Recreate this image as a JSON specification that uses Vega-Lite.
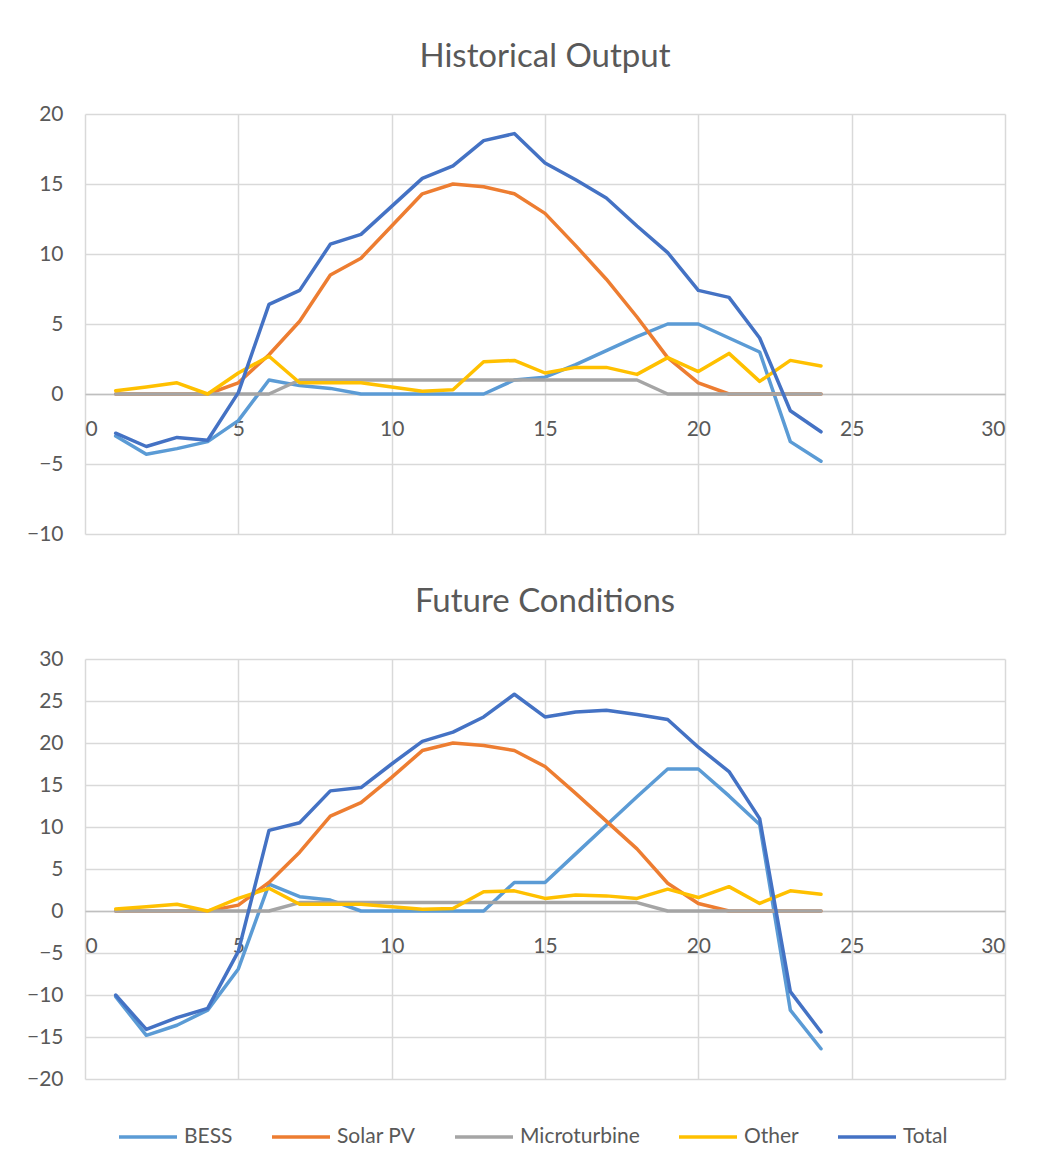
{
  "$schema": "https://vega.github.io/schema/vega-lite/v6.json",
  "padding": {"left": 26, "top": 41, "right": 15, "bottom": 10},
  "background": "white",
  "config": {
    "font": "Lato",
    "view": {"stroke": null},
    "title": {"fontSize": 33, "fontWeight": "normal", "color": "#595959", "anchor": "middle", "offset": 29},
    "axis": {"labelFontSize": 21, "labelColor": "#595959", "gridColor": "#d9d9d9", "gridWidth": 1.5, "ticks": false, "title": null},
    "legend": {"labelFontSize": 21, "labelColor": "#595959", "orient": "none", "legendX": 32, "legendY": 992, "direction": "horizontal", "title": null, "symbolType": "stroke", "symbolSize": 3364, "symbolStrokeWidth": 3.5, "columnPadding": 32, "labelOffset": 5}
  },
  "spacing": 42,
  "datasets": {
    "hist": [
      {"h":1,"s":"BESS","v":-3.0},{"h":2,"s":"BESS","v":-4.3},{"h":3,"s":"BESS","v":-3.9},{"h":4,"s":"BESS","v":-3.4},{"h":5,"s":"BESS","v":-1.9},{"h":6,"s":"BESS","v":1.0},{"h":7,"s":"BESS","v":0.6},{"h":8,"s":"BESS","v":0.4},{"h":9,"s":"BESS","v":0},{"h":10,"s":"BESS","v":0},{"h":11,"s":"BESS","v":0},{"h":12,"s":"BESS","v":0},{"h":13,"s":"BESS","v":0},{"h":14,"s":"BESS","v":1.0},{"h":15,"s":"BESS","v":1.2},{"h":16,"s":"BESS","v":2.1},{"h":17,"s":"BESS","v":3.1},{"h":18,"s":"BESS","v":4.1},{"h":19,"s":"BESS","v":5.0},{"h":20,"s":"BESS","v":5.0},{"h":21,"s":"BESS","v":4.0},{"h":22,"s":"BESS","v":3.0},{"h":23,"s":"BESS","v":-3.4},{"h":24,"s":"BESS","v":-4.8},
      {"h":1,"s":"Solar PV","v":0},{"h":2,"s":"Solar PV","v":0},{"h":3,"s":"Solar PV","v":0},{"h":4,"s":"Solar PV","v":0},{"h":5,"s":"Solar PV","v":0.8},{"h":6,"s":"Solar PV","v":2.8},{"h":7,"s":"Solar PV","v":5.2},{"h":8,"s":"Solar PV","v":8.5},{"h":9,"s":"Solar PV","v":9.7},{"h":10,"s":"Solar PV","v":12.0},{"h":11,"s":"Solar PV","v":14.3},{"h":12,"s":"Solar PV","v":15.0},{"h":13,"s":"Solar PV","v":14.8},{"h":14,"s":"Solar PV","v":14.3},{"h":15,"s":"Solar PV","v":12.9},{"h":16,"s":"Solar PV","v":10.6},{"h":17,"s":"Solar PV","v":8.2},{"h":18,"s":"Solar PV","v":5.5},{"h":19,"s":"Solar PV","v":2.6},{"h":20,"s":"Solar PV","v":0.8},{"h":21,"s":"Solar PV","v":0},{"h":22,"s":"Solar PV","v":0},{"h":23,"s":"Solar PV","v":0},{"h":24,"s":"Solar PV","v":0},
      {"h":1,"s":"Microturbine","v":0},{"h":2,"s":"Microturbine","v":0},{"h":3,"s":"Microturbine","v":0},{"h":4,"s":"Microturbine","v":0},{"h":5,"s":"Microturbine","v":0},{"h":6,"s":"Microturbine","v":0},{"h":7,"s":"Microturbine","v":1},{"h":8,"s":"Microturbine","v":1},{"h":9,"s":"Microturbine","v":1},{"h":10,"s":"Microturbine","v":1},{"h":11,"s":"Microturbine","v":1},{"h":12,"s":"Microturbine","v":1},{"h":13,"s":"Microturbine","v":1},{"h":14,"s":"Microturbine","v":1},{"h":15,"s":"Microturbine","v":1},{"h":16,"s":"Microturbine","v":1},{"h":17,"s":"Microturbine","v":1},{"h":18,"s":"Microturbine","v":1},{"h":19,"s":"Microturbine","v":0},{"h":20,"s":"Microturbine","v":0},{"h":21,"s":"Microturbine","v":0},{"h":22,"s":"Microturbine","v":0},{"h":23,"s":"Microturbine","v":0},{"h":24,"s":"Microturbine","v":0},
      {"h":1,"s":"Other","v":0.24},{"h":2,"s":"Other","v":0.5},{"h":3,"s":"Other","v":0.8},{"h":4,"s":"Other","v":0},{"h":5,"s":"Other","v":1.5},{"h":6,"s":"Other","v":2.7},{"h":7,"s":"Other","v":0.8},{"h":8,"s":"Other","v":0.8},{"h":9,"s":"Other","v":0.8},{"h":10,"s":"Other","v":0.5},{"h":11,"s":"Other","v":0.2},{"h":12,"s":"Other","v":0.3},{"h":13,"s":"Other","v":2.3},{"h":14,"s":"Other","v":2.4},{"h":15,"s":"Other","v":1.5},{"h":16,"s":"Other","v":1.9},{"h":17,"s":"Other","v":1.9},{"h":18,"s":"Other","v":1.4},{"h":19,"s":"Other","v":2.6},{"h":20,"s":"Other","v":1.6},{"h":21,"s":"Other","v":2.9},{"h":22,"s":"Other","v":0.9},{"h":23,"s":"Other","v":2.4},{"h":24,"s":"Other","v":2.0},
      {"h":1,"s":"Total","v":-2.8},{"h":2,"s":"Total","v":-3.75},{"h":3,"s":"Total","v":-3.1},{"h":4,"s":"Total","v":-3.3},{"h":5,"s":"Total","v":0.1},{"h":6,"s":"Total","v":6.4},{"h":7,"s":"Total","v":7.4},{"h":8,"s":"Total","v":10.7},{"h":9,"s":"Total","v":11.4},{"h":10,"s":"Total","v":13.4},{"h":11,"s":"Total","v":15.4},{"h":12,"s":"Total","v":16.3},{"h":13,"s":"Total","v":18.1},{"h":14,"s":"Total","v":18.6},{"h":15,"s":"Total","v":16.5},{"h":16,"s":"Total","v":15.3},{"h":17,"s":"Total","v":14.0},{"h":18,"s":"Total","v":12.0},{"h":19,"s":"Total","v":10.1},{"h":20,"s":"Total","v":7.4},{"h":21,"s":"Total","v":6.9},{"h":22,"s":"Total","v":4.0},{"h":23,"s":"Total","v":-1.2},{"h":24,"s":"Total","v":-2.7}
    ],
    "future": [
      {"h":1,"s":"BESS","v":-10.2},{"h":2,"s":"BESS","v":-14.8},{"h":3,"s":"BESS","v":-13.6},{"h":4,"s":"BESS","v":-11.8},{"h":5,"s":"BESS","v":-6.9},{"h":6,"s":"BESS","v":3.2},{"h":7,"s":"BESS","v":1.7},{"h":8,"s":"BESS","v":1.3},{"h":9,"s":"BESS","v":0},{"h":10,"s":"BESS","v":0},{"h":11,"s":"BESS","v":0},{"h":12,"s":"BESS","v":0},{"h":13,"s":"BESS","v":0},{"h":14,"s":"BESS","v":3.4},{"h":15,"s":"BESS","v":3.4},{"h":16,"s":"BESS","v":6.8},{"h":17,"s":"BESS","v":10.2},{"h":18,"s":"BESS","v":13.6},{"h":19,"s":"BESS","v":16.9},{"h":20,"s":"BESS","v":16.9},{"h":21,"s":"BESS","v":13.7},{"h":22,"s":"BESS","v":10.3},{"h":23,"s":"BESS","v":-11.8},{"h":24,"s":"BESS","v":-16.4},
      {"h":1,"s":"Solar PV","v":0},{"h":2,"s":"Solar PV","v":0},{"h":3,"s":"Solar PV","v":0},{"h":4,"s":"Solar PV","v":0},{"h":5,"s":"Solar PV","v":0.7},{"h":6,"s":"Solar PV","v":3.4},{"h":7,"s":"Solar PV","v":7.0},{"h":8,"s":"Solar PV","v":11.3},{"h":9,"s":"Solar PV","v":12.9},{"h":10,"s":"Solar PV","v":15.9},{"h":11,"s":"Solar PV","v":19.1},{"h":12,"s":"Solar PV","v":20.0},{"h":13,"s":"Solar PV","v":19.7},{"h":14,"s":"Solar PV","v":19.1},{"h":15,"s":"Solar PV","v":17.2},{"h":16,"s":"Solar PV","v":14.0},{"h":17,"s":"Solar PV","v":10.7},{"h":18,"s":"Solar PV","v":7.4},{"h":19,"s":"Solar PV","v":3.3},{"h":20,"s":"Solar PV","v":0.9},{"h":21,"s":"Solar PV","v":0},{"h":22,"s":"Solar PV","v":0},{"h":23,"s":"Solar PV","v":0},{"h":24,"s":"Solar PV","v":0},
      {"h":1,"s":"Microturbine","v":0},{"h":2,"s":"Microturbine","v":0},{"h":3,"s":"Microturbine","v":0},{"h":4,"s":"Microturbine","v":0},{"h":5,"s":"Microturbine","v":0},{"h":6,"s":"Microturbine","v":0},{"h":7,"s":"Microturbine","v":1},{"h":8,"s":"Microturbine","v":1},{"h":9,"s":"Microturbine","v":1},{"h":10,"s":"Microturbine","v":1},{"h":11,"s":"Microturbine","v":1},{"h":12,"s":"Microturbine","v":1},{"h":13,"s":"Microturbine","v":1},{"h":14,"s":"Microturbine","v":1},{"h":15,"s":"Microturbine","v":1},{"h":16,"s":"Microturbine","v":1},{"h":17,"s":"Microturbine","v":1},{"h":18,"s":"Microturbine","v":1},{"h":19,"s":"Microturbine","v":0},{"h":20,"s":"Microturbine","v":0},{"h":21,"s":"Microturbine","v":0},{"h":22,"s":"Microturbine","v":0},{"h":23,"s":"Microturbine","v":0},{"h":24,"s":"Microturbine","v":0},
      {"h":1,"s":"Other","v":0.24},{"h":2,"s":"Other","v":0.5},{"h":3,"s":"Other","v":0.8},{"h":4,"s":"Other","v":0},{"h":5,"s":"Other","v":1.5},{"h":6,"s":"Other","v":2.7},{"h":7,"s":"Other","v":0.8},{"h":8,"s":"Other","v":0.8},{"h":9,"s":"Other","v":0.8},{"h":10,"s":"Other","v":0.5},{"h":11,"s":"Other","v":0.2},{"h":12,"s":"Other","v":0.3},{"h":13,"s":"Other","v":2.3},{"h":14,"s":"Other","v":2.4},{"h":15,"s":"Other","v":1.5},{"h":16,"s":"Other","v":1.9},{"h":17,"s":"Other","v":1.8},{"h":18,"s":"Other","v":1.5},{"h":19,"s":"Other","v":2.6},{"h":20,"s":"Other","v":1.6},{"h":21,"s":"Other","v":2.9},{"h":22,"s":"Other","v":0.9},{"h":23,"s":"Other","v":2.4},{"h":24,"s":"Other","v":2.0},
      {"h":1,"s":"Total","v":-10.0},{"h":2,"s":"Total","v":-14.1},{"h":3,"s":"Total","v":-12.7},{"h":4,"s":"Total","v":-11.6},{"h":5,"s":"Total","v":-4.8},{"h":6,"s":"Total","v":9.6},{"h":7,"s":"Total","v":10.5},{"h":8,"s":"Total","v":14.3},{"h":9,"s":"Total","v":14.7},{"h":10,"s":"Total","v":17.5},{"h":11,"s":"Total","v":20.2},{"h":12,"s":"Total","v":21.3},{"h":13,"s":"Total","v":23.1},{"h":14,"s":"Total","v":25.8},{"h":15,"s":"Total","v":23.1},{"h":16,"s":"Total","v":23.7},{"h":17,"s":"Total","v":23.9},{"h":18,"s":"Total","v":23.4},{"h":19,"s":"Total","v":22.8},{"h":20,"s":"Total","v":19.5},{"h":21,"s":"Total","v":16.6},{"h":22,"s":"Total","v":11.0},{"h":23,"s":"Total","v":-9.6},{"h":24,"s":"Total","v":-14.4}
    ]
  },
  "vconcat": [
    {
      "title": "Historical Output",
      "width": 920,
      "height": 420,
      "data": {"name": "hist"},
      "mark": {"type": "line", "strokeWidth": 3.5, "strokeCap": "round", "strokeJoin": "round"},
      "encoding": {
        "x": {"field": "h", "type": "quantitative", "scale": {"domain": [0, 30], "nice": false},
              "axis": {"values": [0, 5, 10, 15, 20, 25, 30], "offset": -140, "labelPadding": 24, "domainColor": "#bfbfbf", "domainWidth": 1.5}},
        "y": {"field": "v", "type": "quantitative", "scale": {"domain": [-10, 20], "nice": false, "zero": false},
              "axis": {"values": [-10, -5, 0, 5, 10, 15, 20], "domain": false, "labelPadding": 22}},
        "color": {"field": "s", "type": "nominal",
                  "scale": {"domain": ["BESS", "Solar PV", "Microturbine", "Other", "Total"], "range": ["#5B9BD5", "#ED7D31", "#A5A5A5", "#FFC000", "#4472C4"]}}
      }
    },
    {
      "title": "Future Conditions",
      "width": 920,
      "height": 420,
      "data": {"name": "future"},
      "mark": {"type": "line", "strokeWidth": 3.5, "strokeCap": "round", "strokeJoin": "round"},
      "encoding": {
        "x": {"field": "h", "type": "quantitative", "scale": {"domain": [0, 30], "nice": false},
              "axis": {"values": [0, 5, 10, 15, 20, 25, 30], "offset": -168, "labelPadding": 24, "domainColor": "#bfbfbf", "domainWidth": 1.5}},
        "y": {"field": "v", "type": "quantitative", "scale": {"domain": [-20, 30], "nice": false, "zero": false},
              "axis": {"values": [-20, -15, -10, -5, 0, 5, 10, 15, 20, 25, 30], "domain": false, "labelPadding": 22}},
        "color": {"field": "s", "type": "nominal"}
      }
    }
  ]
}
